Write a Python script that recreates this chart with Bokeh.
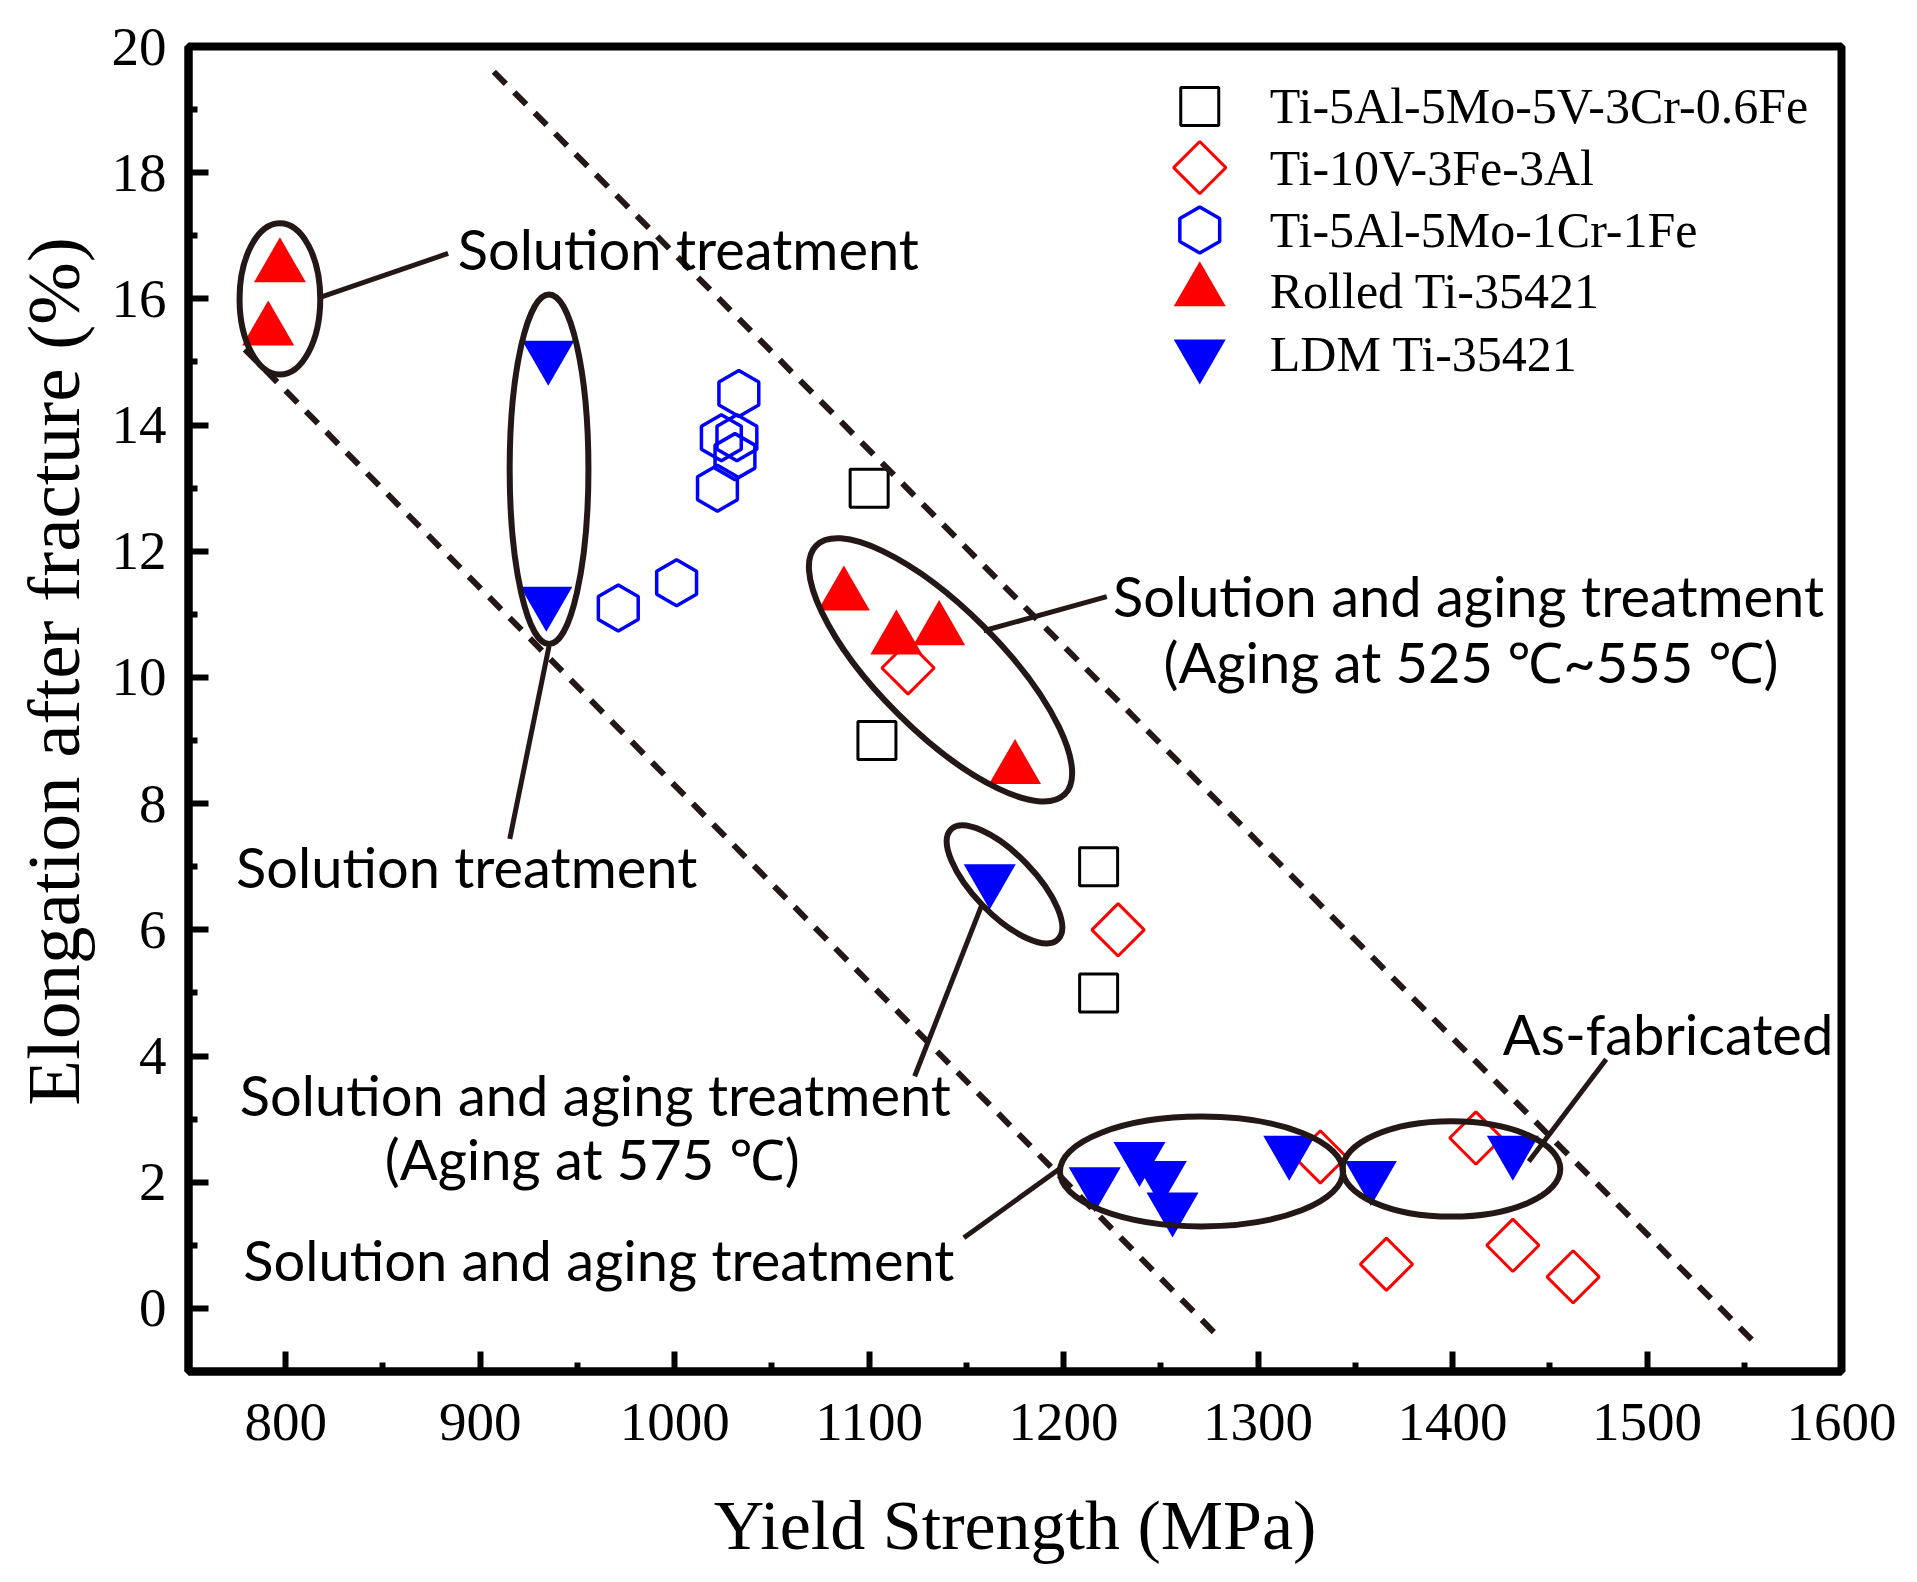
import numpy as np
from bokeh.plotting import figure
from bokeh.models import Range1d, FixedTicker
from bokeh.core.properties import value
from bokeh.embed import file_html
from bokeh.resources import INLINE

# ---------------- data ----------------
sq_x = [1100, 1104, 1218, 1218]                 # Ti-5Al-5Mo-5V-3Cr-0.6Fe
sq_y = [13.0, 9.0, 7.0, 5.0]
dia_x = [1120, 1228, 1332, 1412, 1366, 1431, 1462]   # Ti-10V-3Fe-3Al
dia_y = [10.15, 6.0, 2.4, 2.7, 0.7, 1.0, 0.5]
hex_x = [1033, 1024, 1032, 1031, 1022, 1001, 971]    # Ti-5Al-5Mo-1Cr-1Fe
hex_y = [14.5, 13.8, 13.8, 13.5, 13.0, 11.5, 11.1]
rolled_x = [797, 791, 1087, 1114, 1136, 1175]        # Rolled Ti-35421
rolled_y = [16.5, 15.5, 11.3, 10.6, 10.75, 8.55]
ldm_x = [935, 934, 1162, 1216, 1239, 1250, 1256, 1316, 1358, 1431]  # LDM Ti-35421
ldm_y = [15.1, 11.2, 6.8, 2.0, 2.4, 2.1, 1.6, 2.5, 2.1, 2.5]

series_labels = ["Ti-5Al-5Mo-5V-3Cr-0.6Fe", "Ti-10V-3Fe-3Al", "Ti-5Al-5Mo-1Cr-1Fe",
                 "Rolled Ti-35421", "LDM Ti-35421"]

x_ticks = [800, 900, 1000, 1100, 1200, 1300, 1400, 1500, 1600]
x_minor = [750, 850, 950, 1050, 1150, 1250, 1350, 1450, 1550]
y_ticks = [0, 2, 4, 6, 8, 10, 12, 14, 16, 18, 20]
y_minor = [-1, 1, 3, 5, 7, 9, 11, 13, 15, 17, 19]

# trend (dashed) lines
upper_x = [907, 1554]
upper_y = [19.6, -0.5]
lower_x = [779, 1278]
lower_y = [15.2, -0.4]

# grouping ellipses
ell_x = [797, 935.4, 1136.7, 1169.6, 1270.9, 1399.4]
ell_y = [16.0, 13.3, 10.12, 6.72, 2.17, 2.21]
ell_w = [41.5, 40.5, 180.8, 78.9, 145.6, 112.0]
ell_h = [2.4, 5.54, 1.94, 0.96, 1.74, 1.51]
ell_ang = [0.0, 0.0, -np.pi / 4, -0.80, 0.0, 0.0]

# leader lines
lead_x0 = [818.4, 935.4, 1158.9, 1158.0, 1198.7, 1439.2]
lead_y0 = [16.03, 10.5, 10.74, 6.4, 2.23, 2.33]
lead_x1 = [883.5, 915.2, 1222.2, 1123.4, 1148.7, 1479.0]
lead_y1 = [16.72, 7.44, 11.28, 3.68, 1.12, 3.95]

# annotations
ann_text = ["Solution treatment", "Solution treatment",
            "Solution and aging treatment", "(Aging at 525 \u2103~555 \u2103)",
            "Solution and aging treatment", "(Aging at 575 \u2103)",
            "Solution and aging treatment", "As-fabricated"]
ann_x = [1007, 893, 1408.2, 1409.5, 959.2, 957.6, 961, 1510.8]
ann_y = [16.8, 7.0, 11.3, 10.25, 3.39, 2.38, 0.78, 4.36]

# ---------------- figure ----------------
p = figure(width=1900, height=1566, x_range=Range1d(750, 1600), y_range=Range1d(-1, 20),
           output_backend="svg", toolbar_location=None,
           min_border_left=188, min_border_right=59, min_border_top=46, min_border_bottom=192)
p.grid.visible = False
p.outline_line_color = "black"
p.outline_line_width = 8
p.outline_line_alpha = 1.0
p.background_fill_color = "white"

p.xaxis.ticker = FixedTicker(ticks=x_ticks, minor_ticks=x_minor)
p.yaxis.ticker = FixedTicker(ticks=y_ticks, minor_ticks=y_minor)
p.xaxis.axis_label = "Yield Strength (MPa)"
p.yaxis.axis_label = "\u00a0\u00a0\u00a0\u00a0Elongation after fracture (%)"
for ax in (p.xaxis[0], p.yaxis[0]):
    ax.axis_line_width = 8
    ax.axis_line_color = "black"
    ax.major_tick_in = 20
    ax.major_tick_out = 0
    ax.minor_tick_in = 9
    ax.minor_tick_out = 0
    ax.major_tick_line_width = 6
    ax.minor_tick_line_width = 6
    ax.major_tick_line_color = "black"
    ax.minor_tick_line_color = "black"
    ax.major_label_text_font = "Liberation Serif"
    ax.major_label_text_font_size = "55px"
    ax.major_label_text_color = "black"
    ax.axis_label_text_font = "Liberation Serif"
    ax.axis_label_text_font_style = "normal"
    ax.axis_label_text_color = "black"
p.xaxis.axis_label_text_font_size = "70px"
p.yaxis.axis_label_text_font_size = "75px"
p.xaxis.major_label_standoff = 32
p.xaxis.axis_label_standoff = 44
p.yaxis.major_label_standoff = 22
p.yaxis.axis_label_standoff = 14

# ---------------- markers ----------------
p.scatter(sq_x, sq_y, marker="square", size=38, fill_color=None, line_color="black", line_width=3)
p.scatter(dia_x, dia_y, marker="square", angle=np.pi / 4, size=37, fill_color=None,
          line_color="#ff0000", line_width=3)
p.scatter(hex_x, hex_y, marker="hex", angle=np.pi / 2, size=46, fill_color=None,
          line_color="#0000ff", line_width=3.5)
p.scatter(rolled_x, rolled_y, marker="triangle", size=52, fill_color="#ff0000", line_color=None)
p.scatter(ldm_x, ldm_y, marker="inverted_triangle", size=52, fill_color="#0000ff", line_color=None)

# ---------------- lines, ellipses, leaders ----------------
dark = "#231815"
p.line(upper_x, upper_y, line_color=dark, line_width=6, line_dash="17 12")
p.line(lower_x, lower_y, line_color=dark, line_width=6, line_dash="17 12")
p.ellipse(x=ell_x, y=ell_y, width=ell_w, height=ell_h, angle=ell_ang,
          fill_color=None, line_color=dark, line_width=6)
p.segment(x0=lead_x0, y0=lead_y0, x1=lead_x1, y1=lead_y1, line_color=dark, line_width=5)

p.text(x=ann_x, y=ann_y, text=ann_text, text_font=value("Lato"), text_font_size="56px",
       text_align="center", text_baseline="middle", text_color="black")

# ---------------- legend (drawn manually) ----------------
leg_mx = 1270
leg_tx = 1306
leg_y = [19.05, 18.08, 17.09, 16.12, 15.12]
p.scatter([leg_mx], [leg_y[0]], marker="square", size=38, fill_color=None, line_color="black", line_width=3)
p.scatter([leg_mx], [leg_y[1]], marker="square", angle=np.pi / 4, size=37, fill_color=None,
          line_color="#ff0000", line_width=3)
p.scatter([leg_mx], [leg_y[2]], marker="hex", angle=np.pi / 2, size=46, fill_color=None,
          line_color="#0000ff", line_width=3.5)
p.scatter([leg_mx], [leg_y[3]], marker="triangle", size=52, fill_color="#ff0000", line_color=None)
p.scatter([leg_mx], [leg_y[4]], marker="inverted_triangle", size=52, fill_color="#0000ff", line_color=None)
p.text(x=[leg_tx] * 5, y=leg_y, text=series_labels, text_font=value("Liberation Serif"),
       text_font_size="50px", text_align="left", text_baseline="middle", text_color="black")

open("out.html", "w").write(file_html(p, INLINE))
